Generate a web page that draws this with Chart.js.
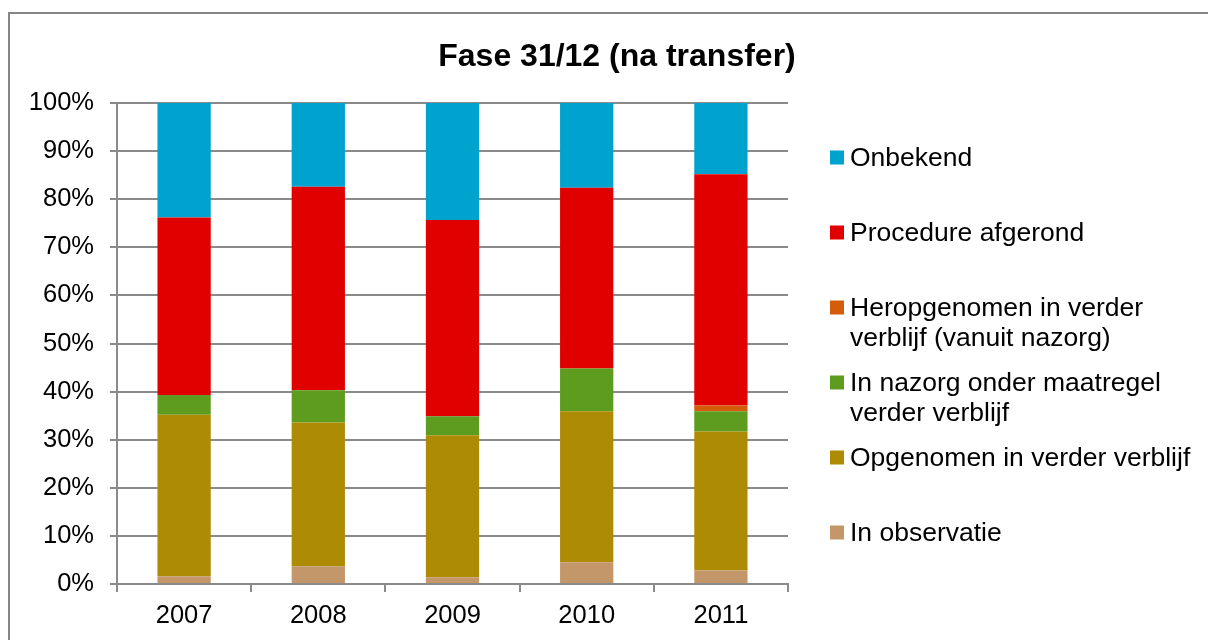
<!DOCTYPE html>
<html>
<head>
<meta charset="utf-8">
<script src="https://cdn.jsdelivr.net/npm/chart.js@4"></script>
<style>
    html, body { margin: 0; padding: 0; background: #fff; }
    #wrap { position: relative; width: 1208px; height: 640px; }
</style>
</head>
<body>
<div id="wrap"><canvas id="grafica" width="1208" height="640"></canvas></div>
<script>
// datos (porcentajes por año)
const jaren = ["2007", "2008", "2009", "2010", "2011"];
const inObservatie = [1.6, 3.7, 1.4, 4.5, 2.8];
const opgenomen = [33.6, 29.9, 29.5, 31.4, 28.9];
const inNazorg = [4.1, 6.7, 4.0, 8.9, 4.2];
const heropgenomen = [0, 0, 0, 0, 1.2];
const procedureAfgerond = [36.9, 42.3, 40.8, 37.6, 48.1];
const onbekend = [23.8, 17.4, 24.3, 17.6, 14.8];
const yTicks = [0, 10, 20, 30, 40, 50, 60, 70, 80, 90, 100];

const titel = "Fase 31/12 (na transfer)";
const fuente = "'Liberation Sans', Arial, sans-serif";
const gris = "#8a8a8a";

const series = [
    { label: "In observatie", data: inObservatie, color: "#c3976a" },
    { label: "Opgenomen in verder verblijf", data: opgenomen, color: "#ad8b05" },
    { label: "In nazorg onder maatregel verder verblijf", data: inNazorg, color: "#5e9c1f" },
    { label: "Heropgenomen in verder verblijf (vanuit nazorg)", data: heropgenomen, color: "#d35d0b" },
    { label: "Procedure afgerond", data: procedureAfgerond, color: "#e10000" },
    { label: "Onbekend", data: onbekend, color: "#00a2ce" }
];

function partirTexto(ctx, texto, ancho) {
    const palabras = texto.split(" ");
    const lineas = [];
    let linea = "";
    for (const p of palabras) {
        const prueba = linea ? linea + " " + p : p;
        if (ctx.measureText(prueba).width > ancho && linea) {
            lineas.push(linea);
            linea = p;
        } else {
            linea = prueba;
        }
    }
    lineas.push(linea);
    return lineas;
}

// marco, titulo y leyenda
const extras = {
    id: "extras",
    beforeDraw(chart) {
        const ctx = chart.ctx;
        ctx.save();
        ctx.fillStyle = "#fff";
        ctx.fillRect(0, 0, chart.width, chart.height);
        ctx.strokeStyle = "#868686";
        ctx.lineWidth = 2;
        ctx.strokeRect(9, 13, 1400, 900);
        ctx.restore();
    },
    afterDraw(chart) {
        const ctx = chart.ctx;
        ctx.save();
        ctx.fillStyle = "#000";
        ctx.textAlign = "center";
        ctx.textBaseline = "middle";
        ctx.font = "bold 32px " + fuente;
        ctx.fillText(titel, 617, 57);

        ctx.font = "26.5px " + fuente;
        ctx.textAlign = "left";
        const sets = chart.data.datasets.slice().reverse();
        sets.forEach((ds, i) => {
            const y = 157.5 + i * 75;
            ctx.fillStyle = ds.backgroundColor;
            ctx.fillRect(830, y - 7, 14, 14);
            ctx.fillStyle = "#000";
            const lineas = partirTexto(ctx, ds.label, 350);
            lineas.forEach((l, j) => ctx.fillText(l, 850, y + 1 + j * 30));
        });
        ctx.restore();
    }
};

new Chart(document.getElementById("grafica"), {
    type: "bar",
    data: {
        labels: jaren,
        datasets: series.map(s => ({
            label: s.label,
            data: s.data,
            backgroundColor: s.color,
            borderWidth: 0,
            categoryPercentage: 1.0,
            barPercentage: 0.397
        }))
    },
    options: {
        responsive: false,
        animation: false,
        layout: { padding: { top: 103, right: 420, left: 0, bottom: 0 } },
        plugins: {
            legend: { display: false },
            title: { display: false },
            tooltip: { enabled: false }
        },
        scales: {
            x: {
                stacked: true,
                afterFit: (s) => { s.height = 56; },
                grid: { display: true, drawOnChartArea: false, offset: true, color: gris, lineWidth: 2, tickLength: 8 },
                border: { display: true, color: gris, width: 2 },
                ticks: { color: "#000", font: { family: fuente, size: 25.5 }, padding: 9 }
            },
            y: {
                stacked: true,
                min: 0,
                max: 100,
                afterFit: (s) => { s.width = 117; },
                afterBuildTicks: (s) => { s.ticks = yTicks.map(v => ({ value: v })); },
                grid: { color: gris, lineWidth: 2, tickLength: 7 },
                border: { display: true, color: gris, width: 2 },
                ticks: {
                    color: "#000",
                    font: { family: fuente, size: 25.5 },
                    padding: 16,
                    callback: (v) => v + "%"
                }
            }
        }
    },
    plugins: [extras]
});
</script>
</body>
</html>
